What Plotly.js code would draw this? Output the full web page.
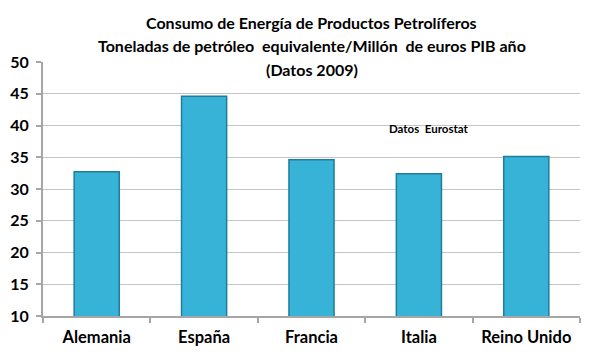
<!DOCTYPE html>
<html>
<head>
<meta charset="utf-8">
<script src="https://cdn.plot.ly/plotly-3.0.1.min.js"></script>
<style>html,body{margin:0;padding:0;background:#fff;}#chart{width:600px;height:360px;}</style>
</head>
<body>
<div id="chart"></div>
<script>
const categories = ["Alemania", "España", "Francia", "Italia", "Reino Unido"];
const values = [32.7, 44.6, 34.6, 32.4, 35.1];
const yTicks = [10, 15, 20, 25, 30, 35, 40, 45, 50];
const titleLines = [
  "Consumo de Energía de Productos Petrolíferos",
  "Toneladas de petróleo  equivalente/Millón  de euros PIB año",
  "(Datos 2009)"
];
const noteText = "Datos  Eurostat";

const font = "Lato, 'Open Sans', sans-serif";

const trace = {
  type: "bar",
  x: categories,
  y: values,
  width: 0.42,
  marker: {
    color: "#38b3d8",
    line: { color: "#1f7d9c", width: 1.5 }
  },
  hoverinfo: "x+y"
};

const titleY = [1.157, 1.063, 0.969];
const titleAnnotations = titleLines.map((t, i) => ({
  text: t,
  xref: "paper",
  yref: "paper",
  x: 0.5,
  y: titleY[i],
  xanchor: "center",
  yanchor: "middle",
  showarrow: false,
  font: { family: font, size: 16, color: "#000", weight: "bold" }
}));

const layout = {
  width: 600,
  height: 360,
  paper_bgcolor: "#ffffff",
  plot_bgcolor: "#ffffff",
  margin: { l: 43, r: 20, t: 62, b: 44 },
  showlegend: false,
  xaxis: {
    type: "category",
    showgrid: false,
    showline: true,
    linecolor: "#a6a6a6",
    linewidth: 2,
    ticks: "outside",
    tickson: "boundaries",
    ticklen: 5,
    tickcolor: "#a6a6a6",
    tickwidth: 2,
    tickfont: { family: font, size: 16.5, color: "#000", weight: "bold" },
    ticklabelstandoff: 5
  },
  yaxis: {
    range: [10, 50],
    tickvals: yTicks,
    showgrid: true,
    gridcolor: "#c4c4c4",
    gridwidth: 1,
    showline: true,
    linecolor: "#a6a6a6",
    linewidth: 2,
    ticks: "outside",
    ticklen: 5,
    tickcolor: "#a6a6a6",
    tickwidth: 2,
    zeroline: false,
    tickfont: { family: font, size: 16, color: "#000", weight: "bold" },
    ticklabelstandoff: 4
  },
  annotations: titleAnnotations.concat([{
    text: noteText,
    xref: "paper",
    yref: "paper",
    x: 0.719,
    y: 0.74,
    xanchor: "center",
    yanchor: "middle",
    showarrow: false,
    font: { family: font, size: 11.5, color: "#000", weight: "bold" }
  }])
};

Plotly.newPlot("chart", [trace], layout, { displayModeBar: false, staticPlot: true });
</script>
</body>
</html>
